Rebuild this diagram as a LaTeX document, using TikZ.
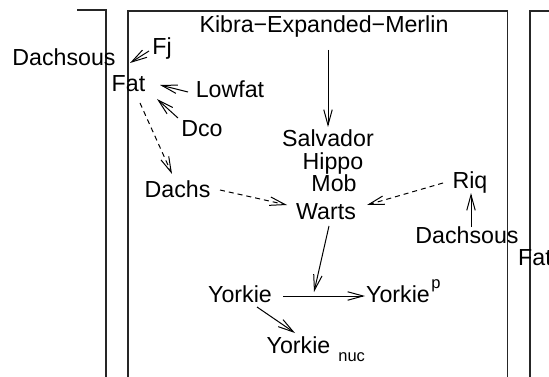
\documentclass[tikz,border=0pt]{standalone}
\usepackage{fontspec}
\setmainfont{Liberation Sans}
\usetikzlibrary{arrows.meta}
\begin{document}
\begin{tikzpicture}[x=1pt,y=-1pt,
  lbl/.style={inner sep=0pt, anchor=base, font=\fontsize{23.2}{27}\selectfont},
  lblw/.style={lbl, anchor=base west},
  frame/.style={line width=1.3pt, draw=black!85},
  arr/.style={line width=1pt, -{Straight Barb[length=15.5pt,width=8.5pt,line width=1pt]}},
  darr/.style={arr, dash pattern=on 5pt off 4pt}]
\useasboundingbox (0,0) rectangle (549,377);
% frames
\draw[frame] (77,10) -- (106,10) -- (106,377);
\draw[frame] (128,377) -- (128,11) -- (507.5,11) -- (507.5,377);
\draw[frame] (549,11) -- (530,11) -- (530,377);
% labels
\node[lbl] (kem) at (324,33) {Kibra−Expanded−Merlin};
\node[lbl] (dsL) at (64,66) {Dachsous};
\node[lbl] (fj) at (162,55) {Fj};
\node[lbl] (fatL) at (128.5,92) {Fat};
\node[lbl] (lowfat) at (230,98) {Lowfat};
\node[lbl] (dco) at (202,137) {Dco};
\node[lbl] (dachs) at (177.5,197) {Dachs};
\node[lbl] (salv) at (328,147) {Salvador};
\node[lbl] (hippo) at (333,170) {Hippo};
\node[lbl] (mob) at (334,192) {Mob};
\node[lbl] (warts) at (326,219) {Warts};
\node[lbl] (riq) at (470,188) {Riq};
\node[lbl] (dsR) at (467,243) {Dachsous};
\node[lblw] (fatR) at (518,265) {Fat};
\node[lbl] (yk) at (240,302) {Yorkie};
\node[lblw] (ykp) at (366,302) {Yorkie\hspace{1.5pt}\raisebox{14pt}{\fontsize{16.5}{16}\selectfont p}};
\node[lblw] (ykn) at (266.5,353) {Yorkie\hspace{8pt}\raisebox{-8pt}{\fontsize{16.5}{16}\selectfont nuc}};
% arrow end points
\coordinate (fjA) at (149,51);   \coordinate (fjB) at (130,63);
\coordinate (lfA) at (188,92);   \coordinate (lfB) at (160,85);
\coordinate (dcA) at (178,118);  \coordinate (dcB) at (157,99);
\coordinate (ftA) at (140,103);  \coordinate (ftB) at (172,174);
\coordinate (kmA) at (328,50);   \coordinate (kmB) at (328,127);
\coordinate (dhA) at (220,190);  \coordinate (dhB) at (287,205);
\coordinate (rqA) at (443,183);  \coordinate (rqB) at (367,205);
\coordinate (dsA) at (471,227);  \coordinate (dsB) at (471,193);
\coordinate (wtA) at (329,226);  \coordinate (wtB) at (314,292);
\coordinate (ykA) at (283,296);  \coordinate (ykB) at (365,296);
\coordinate (ynA) at (257,307);  \coordinate (ynB) at (295,333);
% connectors
\draw[arr] (fjA) -- (fjB);
\draw[arr] (lfA) -- (lfB);
\draw[arr] (dcA) -- (dcB);
\draw[darr] (ftA) -- (ftB);
\draw[arr] (kmA) -- (kmB);
\draw[darr] (dhA) -- (dhB);
\draw[darr] (rqA) -- (rqB);
\draw[arr] (dsA) -- (dsB);
\draw[arr] (wtA) -- (wtB);
\draw[arr] (ykA) -- (ykB);
\draw[arr] (ynA) -- (ynB);
\end{tikzpicture}
\end{document}
